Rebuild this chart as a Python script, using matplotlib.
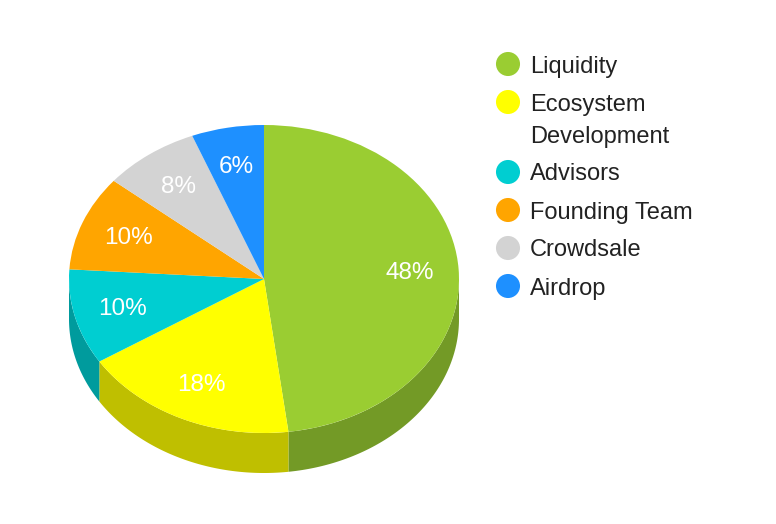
import numpy as np
import matplotlib
matplotlib.use('Agg')
from matplotlib import pyplot as plt
from matplotlib.patches import Polygon
from matplotlib.colors import to_rgb

plt.rcParams['font.family'] = ['Liberation Sans', 'DejaVu Sans']

# token allocation, percent
labels = ['Liquidity', 'Ecosystem\nDevelopment', 'Advisors',
          'Founding Team', 'Crowdsale', 'Airdrop']
shares = [48, 18, 10, 10, 8, 6]
colors = ['#9acd32', '#ffff00', '#00ced1', '#ffa500', '#d3d3d3', '#1e90ff']

W, H = 776, 524
fig = plt.figure(figsize=(W / 100, H / 100), dpi=100)

# pie geometry in pixels
cx, cy, rx, ry, depth = 264, 279, 195, 154, 40
d = depth / ry
left = (cx - rx) / W
bottom = 1 - (cy + ry + depth) / H
ax = fig.add_axes([left, bottom, 2 * rx / W, (2 * ry + depth) / H])

wedges, texts, autotexts = ax.pie(
    shares, colors=colors, startangle=90, counterclock=False,
    autopct=lambda p: f'{p:.0f}%', pctdistance=0.75,
    textprops=dict(color='white', fontsize=17.5),
    wedgeprops=dict(linewidth=0, zorder=3))
for t in autotexts:
    t.set_zorder(5)
    t.set_va('baseline')
    x0, y0 = t.get_position()
    t.set_position((x0, y0 - 0.05))

# side walls of the front half
start = 90.0
for share, col in zip(shares, colors):
    a0 = start - share * 3.6
    a1 = start
    start = a0
    # visible wall: angles in [-180, 0] (mod 360)
    for off in (0, -360, 360):
        lo = max(a0 + off, -180)
        hi = min(a1 + off, 0)
        if hi <= lo:
            continue
        t = np.radians(np.linspace(lo, hi, 100))
        top = np.column_stack([np.cos(t), np.sin(t)])
        bot = np.column_stack([np.cos(t), np.sin(t) - d])[::-1]
        side = np.array(to_rgb(col)) * 0.75
        ax.add_patch(Polygon(np.vstack([top, bot]), closed=True,
                             facecolor=side, edgecolor='none', zorder=1))

ax.set_aspect('auto')
ax.set_xlim(-1, 1)
ax.set_ylim(-1 - d, 1)
ax.axis('off')

# legend drawn in pixel coordinates
lg = fig.add_axes([0, 0, 1, 1])
lg.set_xlim(0, W)
lg.set_ylim(H, 0)
lg.axis('off')
lg.patch.set_alpha(0)
y = 64
for lab, col in zip(labels, colors):
    lg.scatter([508], [y], s=300, color=col, edgecolors='none')
    for i, line in enumerate(lab.split('\n')):
        lg.text(530, y + 8.5 + 32 * i, line, fontsize=17, color='#222222',
                va='baseline', ha='left')
    y += 38 + 32 * lab.count('\n')

fig.savefig('out.png', dpi=100, facecolor='white')
